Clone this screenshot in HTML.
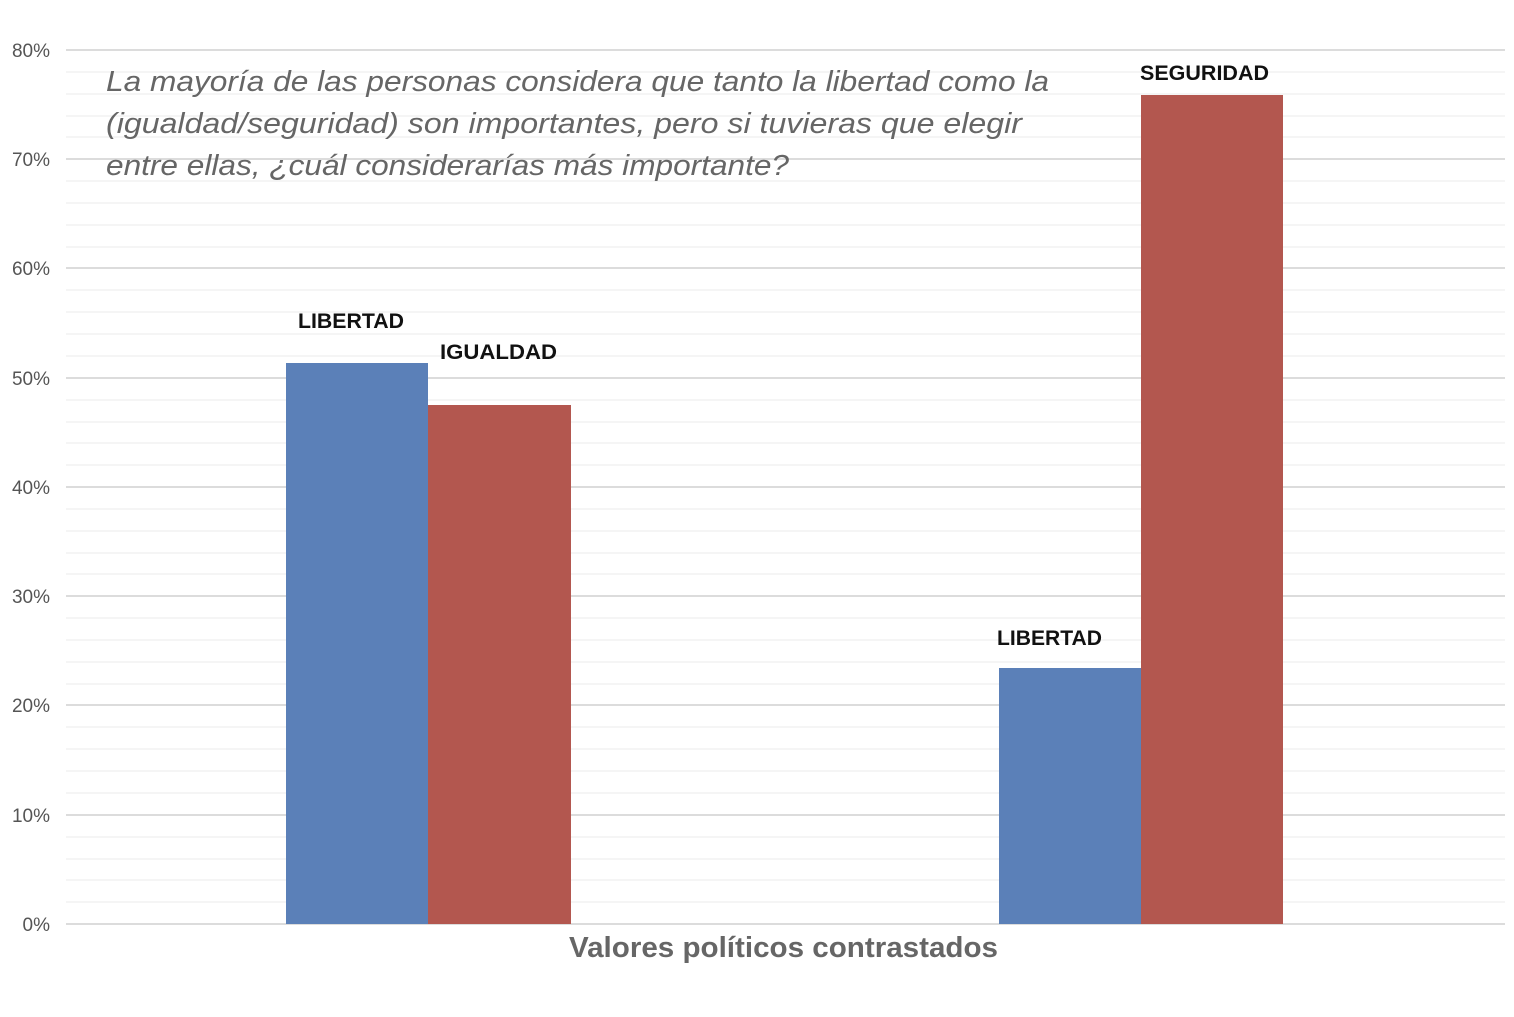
<!DOCTYPE html>
<html><head><meta charset="utf-8"><style>
body{margin:0;background:#fff;}
svg text{font-family:"Liberation Sans","DejaVu Sans",sans-serif;}
</style></head><body>
<svg width="1514" height="1012" xmlns="http://www.w3.org/2000/svg">
<rect width="1514" height="1012" fill="#fff"/>
<g stroke="#f5f5f5" stroke-width="2">
<line x1="66" x2="1505" y1="72" y2="72"/><line x1="66" x2="1505" y1="94" y2="94"/><line x1="66" x2="1505" y1="116" y2="116"/><line x1="66" x2="1505" y1="137" y2="137"/>
<line x1="66" x2="1505" y1="181" y2="181"/><line x1="66" x2="1505" y1="203" y2="203"/><line x1="66" x2="1505" y1="225" y2="225"/><line x1="66" x2="1505" y1="247" y2="247"/>
<line x1="66" x2="1505" y1="290" y2="290"/><line x1="66" x2="1505" y1="312" y2="312"/><line x1="66" x2="1505" y1="334" y2="334"/><line x1="66" x2="1505" y1="356" y2="356"/>
<line x1="66" x2="1505" y1="400" y2="400"/><line x1="66" x2="1505" y1="422" y2="422"/><line x1="66" x2="1505" y1="443" y2="443"/><line x1="66" x2="1505" y1="465" y2="465"/>
<line x1="66" x2="1505" y1="509" y2="509"/><line x1="66" x2="1505" y1="531" y2="531"/><line x1="66" x2="1505" y1="553" y2="553"/><line x1="66" x2="1505" y1="574" y2="574"/>
<line x1="66" x2="1505" y1="618" y2="618"/><line x1="66" x2="1505" y1="640" y2="640"/><line x1="66" x2="1505" y1="662" y2="662"/><line x1="66" x2="1505" y1="684" y2="684"/>
<line x1="66" x2="1505" y1="727" y2="727"/><line x1="66" x2="1505" y1="749" y2="749"/><line x1="66" x2="1505" y1="771" y2="771"/><line x1="66" x2="1505" y1="793" y2="793"/>
<line x1="66" x2="1505" y1="837" y2="837"/><line x1="66" x2="1505" y1="859" y2="859"/><line x1="66" x2="1505" y1="880" y2="880"/><line x1="66" x2="1505" y1="902" y2="902"/>
</g>
<g stroke="#dcdcdc" stroke-width="2">
<line x1="66" x2="1505" y1="50" y2="50"/><line x1="66" x2="1505" y1="159" y2="159"/><line x1="66" x2="1505" y1="268" y2="268"/><line x1="66" x2="1505" y1="378" y2="378"/><line x1="66" x2="1505" y1="487" y2="487"/><line x1="66" x2="1505" y1="596" y2="596"/><line x1="66" x2="1505" y1="705" y2="705"/><line x1="66" x2="1505" y1="815" y2="815"/><line x1="66" x2="1505" y1="924" y2="924"/>
</g>
<g font-size="19" fill="#555" text-anchor="end">
<text x="50" y="57">80%</text><text x="50" y="166">70%</text><text x="50" y="275">60%</text><text x="50" y="385">50%</text><text x="50" y="494">40%</text><text x="50" y="603">30%</text><text x="50" y="712">20%</text><text x="50" y="822">10%</text><text x="50" y="931">0%</text>
</g>
<rect x="286" y="363" width="142" height="561" fill="#5b80b8"/>
<rect x="428" y="405" width="143" height="519" fill="#b3574f"/>
<rect x="999" y="668" width="142" height="256" fill="#5b80b8"/>
<rect x="1141" y="95" width="142" height="829" fill="#b3574f"/>
<g font-size="21" font-weight="bold" fill="#111">
<text x="298" y="328" textLength="106" lengthAdjust="spacingAndGlyphs">LIBERTAD</text>
<text x="440" y="359" textLength="117" lengthAdjust="spacingAndGlyphs">IGUALDAD</text>
<text x="997" y="645" textLength="105" lengthAdjust="spacingAndGlyphs">LIBERTAD</text>
<text x="1140" y="80" textLength="129" lengthAdjust="spacingAndGlyphs">SEGURIDAD</text>
</g>
<g font-size="29" font-style="italic" fill="#666">
<text x="106" y="91" textLength="943" lengthAdjust="spacingAndGlyphs">La mayoría de las personas considera que tanto la libertad como la</text>
<text x="106" y="133" textLength="916" lengthAdjust="spacingAndGlyphs">(igualdad/seguridad) son importantes, pero si tuvieras que elegir</text>
<text x="106" y="175" textLength="683" lengthAdjust="spacingAndGlyphs">entre ellas, ¿cuál considerarías más importante?</text>
</g>
<text x="569" y="957" font-size="29" font-weight="bold" fill="#666" textLength="429" lengthAdjust="spacingAndGlyphs">Valores políticos contrastados</text>
</svg>
</body></html>
